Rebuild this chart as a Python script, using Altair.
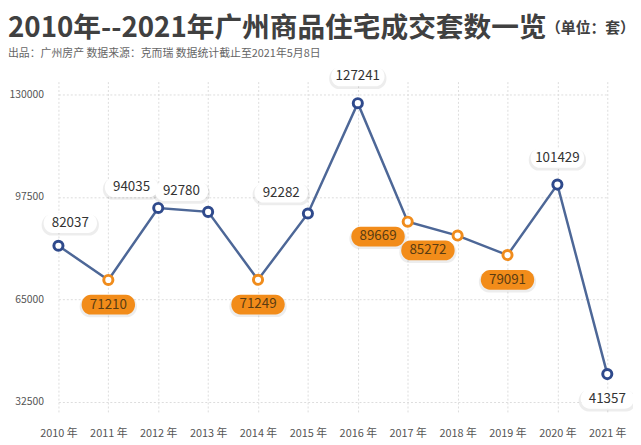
import altair as alt
import pandas as pd

# ---- data ----
years = [2010, 2011, 2012, 2013, 2014, 2015, 2016, 2017, 2018, 2019, 2020, 2021]
values = [82037, 71210, 94035, 92780, 71249, 92282, 127241, 89669, 85272, 79091, 101429, 41357]
kinds = ["peak", "dip", "peak", "peak", "dip", "peak", "peak", "dip", "dip", "dip", "peak", "peak"]
label_side = ["above_right", "below", "above_left", "above_left", "below", "above_left",
              "above", "below_left", "below_left", "below", "above", "below"]
y_ticks = [32500, 65000, 97500, 130000]

title_text = "2010年--2021年广州商品住宅成交套数一览"
unit_text = "（单位：套）"
subtitle_text = "出品：广州房产  数据来源：克而瑞  数据统计截止至2021年5月8日"

year_labels = [f"{y} 年" for y in years]
df = pd.DataFrame({"year": year_labels, "value": values, "kind": kinds, "side": label_side})

FONT = "Noto Sans CJK SC"
LINE = "#4d6797"
BLUE = "#2f4a8c"
ORANGE = "#f08c1c"

# pill shape in unit coordinates ([-1, 1] horizontally)
PILL = ("M -0.66 -0.37 L 0.66 -0.37 A 0.34 0.37 0 0 1 1 0 A 0.34 0.37 0 0 1 0.66 0.37 "
        "L -0.66 0.37 A 0.34 0.37 0 0 1 -1 0 A 0.34 0.37 0 0 1 -0.66 -0.37 Z")

x_enc = alt.X("year:N", sort=year_labels, title=None,
              scale=alt.Scale(type="point", padding=0),
              axis=alt.Axis(labelAngle=0, labelFontSize=11, labelColor="#555555", labelFont=FONT,
                            labelPadding=15, ticks=False, domain=False,
                            grid=True, gridColor="#dddddd", gridDash=[2, 2], gridWidth=1))
y_enc = alt.Y("value:Q", title=None,
              scale=alt.Scale(domain=[29050, 134075], nice=False, zero=False),
              axis=alt.Axis(values=y_ticks, format="d", labelFontSize=10.5, labelColor="#555555",
                            labelFont=FONT, labelPadding=15, ticks=False, domain=False,
                            grid=True, gridColor="#dddddd", gridDash=[2, 2], gridWidth=1))

base = alt.Chart(df)

line = base.mark_line(color=LINE, strokeWidth=2.5).encode(x=x_enc, y=y_enc)

points = base.mark_point(filled=False, fill="white", size=85, strokeWidth=3, opacity=1).encode(
    x="year:N", y="value:Q",
    stroke=alt.Color("kind:N", scale=alt.Scale(domain=["peak", "dip"], range=[BLUE, ORANGE]), legend=None),
)

offsets = {
    "above": (0, -27),
    "above_right": (12, -23),
    "above_left": (-27, -21),
    "below": (0, 25),
    "below_left": (-30, 15),
}

label_layers = []
for side, (dx, dy) in offsets.items():
    sub = base.transform_filter(alt.datum.side == side)
    shadow = sub.mark_point(shape=PILL, filled=True, size=58 * 58, color="#000000", opacity=0.07,
                            strokeWidth=0, xOffset=dx, yOffset=dy + 2).encode(x="year:N", y="value:Q")
    pill = sub.mark_point(shape=PILL, filled=True, size=54 * 54, opacity=1, strokeWidth=0,
                          xOffset=dx, yOffset=dy).encode(
        x="year:N", y="value:Q",
        fill=alt.Color("kind:N", scale=alt.Scale(domain=["peak", "dip"], range=["#ffffff", "#f28c1a"]),
                       legend=None),
    )
    txt = sub.mark_text(font=FONT, fontSize=13.5, xOffset=dx, yOffset=dy, baseline="middle",
                        align="center").encode(
        x="year:N", y="value:Q", text=alt.Text("value:Q", format="d"),
        color=alt.Color("kind:N", scale=alt.Scale(domain=["peak", "dip"], range=["#333333", "#5a3c12"]),
                        legend=None),
    )
    label_layers += [shadow, pill, txt]

tdf = pd.DataFrame({"t": [title_text]})
udf = pd.DataFrame({"t": [unit_text]})
sdf = pd.DataFrame({"t": [subtitle_text]})

title = alt.Chart(tdf).mark_text(font=FONT, fontSize=28, fontWeight="bold", color="#404040",
                                 align="left", baseline="alphabetic").encode(
    text="t:N", x=alt.value(-51), y=alt.value(-45))
unit = alt.Chart(udf).mark_text(font=FONT, fontSize=15, fontWeight="bold", color="#404040",
                                align="left", baseline="alphabetic").encode(
    text="t:N", x=alt.value(493), y=alt.value(-49))
subtitle = alt.Chart(sdf).mark_text(font=FONT, fontSize=11, color="#666666",
                                    align="left", baseline="alphabetic").encode(
    text="t:N", x=alt.value(-51), y=alt.value(-25))

chart = alt.layer(line, points, *label_layers, title, unit, subtitle).properties(
    width=555, height=335,
    padding={"left": 51, "top": 72, "right": 26, "bottom": 30},
    autosize="none",
).configure_view(stroke=None).resolve_scale(color="independent", fill="independent", stroke="independent")

chart.save("out.html", embed_options={"renderer": "svg", "actions": False})
